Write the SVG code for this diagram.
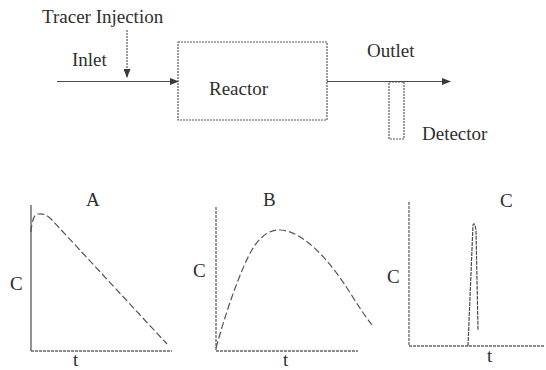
<svg xmlns="http://www.w3.org/2000/svg" width="546" height="370" viewBox="0 0 546 370">
<style>
text{font-family:"Liberation Serif","Times New Roman",serif;font-size:19px;fill:#2e2e2e}
.ln{stroke:#4a4a4a;stroke-width:1.2;fill:none}
.dot{stroke:#5a5a5a;stroke-width:1.2;fill:none;stroke-dasharray:2 1}
.axis{stroke:#666;stroke-width:1.3;fill:none;stroke-dasharray:3 1}
.curve{stroke:#555;stroke-width:1.2;fill:none;stroke-dasharray:7 3}
</style>
<defs>
<marker id="ah" markerWidth="9" markerHeight="7" refX="8" refY="3.5" orient="auto" markerUnits="userSpaceOnUse">
<path d="M0,0 L9,3.5 L0,7 Z" fill="#3a3a3a"/>
</marker>
</defs>
<rect width="546" height="370" fill="#fff"/>
<g id="tracer-injection"><text x="42" y="23">Tracer Injection</text></g>
<g id="inlet"><text x="72" y="66">Inlet</text></g>
<g id="reactor">
<rect class="dot" x="178" y="42" width="149" height="78"/>
<text x="209" y="95">Reactor</text>
</g>
<g id="outlet"><text x="367" y="57">Outlet</text></g>
<g id="detector">
<rect class="dot" x="389" y="82" width="15" height="57"/>
<text x="422" y="140">Detector</text>
</g>
<g id="connectors">
<line class="dot" x1="127" y1="30" x2="127" y2="77" marker-end="url(#ah)"/>
<line class="ln" x1="57" y1="81.5" x2="178" y2="81.5" marker-end="url(#ah)"/>
<line class="ln" x1="327" y1="81.5" x2="450" y2="81.5" marker-end="url(#ah)"/>
</g>
<g id="graph-a">
<line class="ln" x1="31" y1="205" x2="31" y2="351"/>
<line class="axis" x1="31" y1="351" x2="172" y2="351"/>
<path class="curve" d="M31,232 C32,220 34,214 38,214 C44,213 48,216 52,220 L167,344" stroke-dasharray="30 3 18 3 10 3"/>
<text x="86" y="206">A</text>
<text x="10" y="290">C</text>
<text x="73" y="366">t</text>
</g>
<g id="graph-b">
<line class="axis" x1="216" y1="207" x2="216" y2="351"/>
<line class="axis" x1="216" y1="351" x2="358" y2="351"/>
<path class="curve" d="M216,348 C225,315 240,270 253,248 C262,234 272,229 281,230 C305,232 330,262 347,288 C356,302 364,315 372,325"/>
<text x="263" y="206">B</text>
<text x="193" y="277">C</text>
<text x="283" y="366">t</text>
</g>
<g id="graph-c">
<line class="axis" x1="409" y1="202" x2="409" y2="346"/>
<line class="axis" x1="409" y1="346" x2="545" y2="346"/>
<path class="ln" d="M468,346 L473,225 Q474.5,221 476,230 L478,330" stroke-dasharray="4 1"/>
<text x="500" y="207">C</text>
<text x="387" y="283">C</text>
<text x="487" y="362">t</text>
</g>
</svg>
